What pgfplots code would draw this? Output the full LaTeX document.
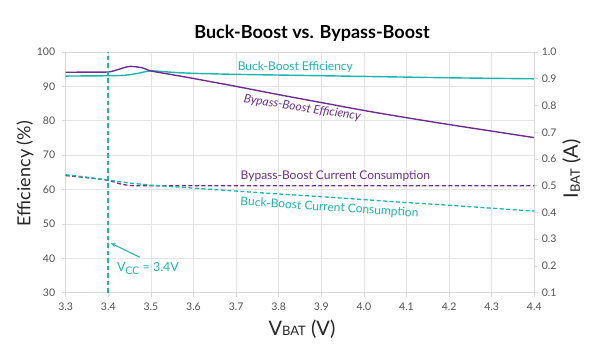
\documentclass[border=0pt]{standalone}
\usepackage{pgfplots}
\pgfplotsset{compat=1.18}
\usetikzlibrary{arrows.meta}
\usepackage{fontspec}
\setmainfont{Lato}
\definecolor{tealc}{HTML}{1AB5AC}
\definecolor{purp}{HTML}{6E2E91}
\definecolor{tickc}{HTML}{505050}
\definecolor{gridc}{HTML}{E4E4E4}
\definecolor{axc}{HTML}{D8D8D8}
\begin{document}
\begin{tikzpicture}
\useasboundingbox (-65.7pt,-67.3pt) rectangle (534.3pt,292.7pt);
\pgfplotsset{
  base/.style={
    at={(0,0)}, anchor=south west, scale only axis,
    width=468.6pt, height=240.7pt,
    xmin=3.3, xmax=4.4,
    axis line style={axc, line width=1pt},
    tick style={axc, line width=0.8pt},
    tick align=outside, major tick length=4pt,
    ticklabel style={font=\fontsize{10.5}{12}\selectfont, text=tickc},
    /pgf/number format/assume math mode=true,
  }
}
\begin{axis}[base,
  ymin=30, ymax=100,
  xtick={3.3,3.4,3.5,3.6,3.7,3.8,3.9,4.0,4.1,4.2,4.3,4.4},
  ytick={30,40,50,60,70,80,90,100},
  xtick pos=bottom, ytick pos=left,
  x tick label style={yshift=-3pt, /pgf/number format/.cd, fixed, fixed zerofill, precision=1},
  y tick label style={xshift=-3pt},
  grid=major, grid style={gridc, line width=0.8pt},
  clip=false,
]
\addplot[tealc, line width=1.4pt, smooth] coordinates {
(3.30,93.0)(3.35,93.05)(3.40,93.1)(3.44,93.25)(3.47,93.8)(3.50,94.5)(3.55,94.1)(3.60,93.8)(3.70,93.5)(3.80,93.3)(3.90,93.1)(4.00,92.9)(4.10,92.7)(4.20,92.5)(4.30,92.35)(4.40,92.2)};
\addplot[purp, line width=1.4pt, smooth] coordinates {
(3.30,94.1)(3.35,94.15)(3.40,94.2)(3.42,94.8)(3.45,95.8)(3.48,95.4)(3.50,94.5)(3.55,93.4)(3.60,92.3)(3.70,90.0)(3.80,87.6)(3.90,85.3)(4.00,83.0)(4.10,80.9)(4.20,78.9)(4.30,77.0)(4.40,75.1)};
\addplot[tealc, line width=1.6pt, dash pattern=on 4.5pt off 3pt] coordinates {(3.4,30)(3.4,100)};
\draw[tealc, line width=1pt, -{Stealth[length=5pt,width=4pt]}] (axis cs:3.474,40.3) -- (axis cs:3.406,44.4);
\node[tealc, anchor=base west, inner sep=0pt, font=\fontsize{12.5}{14}\selectfont] at (axis cs:3.42,36.1) {V\raisebox{-0.5ex}{\fontsize{10.5}{12}\selectfont CC} = 3.4V};
\node[tealc, font=\fontsize{12}{14}\selectfont] at (axis cs:3.839,95.5) {Buck-Boost Efficiency};
\node[purp, rotate=-9, font=\fontsize{12}{14}\itshape] at (axis cs:3.855,83.7) {Bypass-Boost Efficiency};
\node[purp, font=\fontsize{12}{14}\selectfont] at (axis cs:3.933,64.0) {Bypass-Boost Current Consumption};
\node[tealc, rotate=-3.7, font=\fontsize{12}{14}\selectfont] at (axis cs:3.919,54.7) {Buck-Boost Current Consumption};
\node[font=\fontsize{18}{21}\bfseries, text=black] at (rel axis cs:0.5256,1.079) {Buck-Boost vs. Bypass-Boost};
\node[rotate=90, font=\fontsize{18}{21}\selectfont, text=black!85] at (rel axis cs:-0.0869,0.495) {Efficiency (\%)};
\node[font=\fontsize{20}{23}\selectfont, text=black!85] at (rel axis cs:0.5043,-0.152) {V{\fontsize{13}{15}\selectfont BAT} (V)};
\node[rotate=90, font=\fontsize{20}{23}\selectfont, text=black!85] at (rel axis cs:1.0798,0.514) {I{\fontsize{13}{15}\selectfont\raisebox{-0.3ex}{BAT}} (A)};
\end{axis}
\begin{axis}[base,
  ymin=0.1, ymax=1.0,
  axis x line=none, axis y line*=right,
  ytick={0.1,0.2,0.3,0.4,0.5,0.6,0.7,0.8,0.9,1.0},
  y tick label style={/pgf/number format/.cd, fixed, fixed zerofill, precision=1},
]
\addplot[purp, line width=1.3pt, dash pattern=on 4pt off 2.5pt, smooth] coordinates {
(3.30,0.538)(3.35,0.530)(3.40,0.520)(3.43,0.506)(3.46,0.500)(3.50,0.500)(3.60,0.500)(3.80,0.500)(4.00,0.500)(4.20,0.500)(4.40,0.500)};
\addplot[tealc, line width=1.3pt, dash pattern=on 4pt off 2.5pt] coordinates {
(3.30,0.541)(3.35,0.532)(3.40,0.521)(3.45,0.510)(3.50,0.502)(3.60,0.491)(3.70,0.480)(3.80,0.469)(3.90,0.459)(4.00,0.448)(4.10,0.437)(4.20,0.427)(4.30,0.416)(4.40,0.405)};
\end{axis}
\end{tikzpicture}
\end{document}
